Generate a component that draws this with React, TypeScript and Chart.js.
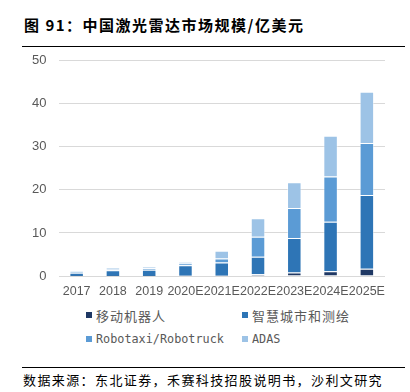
import React, { useEffect, useRef } from "react";
import { Chart, registerables } from "chart.js";

Chart.register(...registerables);

const categories = ["2017", "2018", "2019", "2020E", "2021E", "2022E", "2023E", "2024E", "2025E"];
const mobileRobot = [0.02, 0.02, 0.02, 0.03, 0.05, 0.4, 0.8, 1.1, 1.7];
const smartCity = [0.75, 1.3, 1.45, 2.45, 3.1, 4.1, 8.0, 11.5, 17.1];
const robotaxi = [0.25, 0.25, 0.35, 0.45, 0.9, 4.6, 7.0, 10.5, 12.1];
const adas = [0.3, 0.3, 0.3, 0.35, 1.8, 4.3, 6.0, 9.5, 11.9];
const yTicks = [0, 10, 20, 30, 40, 50];

const seriesNames = ["移动机器人", "智慧城市和测绘", "Robotaxi/Robotruck", "ADAS"];
const seriesColors = ["#1f3864", "#2e75b6", "#5b9bd5", "#9dc3e6"];

export default function App() {
  const ref = useRef<HTMLCanvasElement | null>(null);

  useEffect(() => {
    document.body.style.margin = "0";
    const ctx = ref.current!;
    const values = [mobileRobot, smartCity, robotaxi, adas];
    const chart = new Chart(ctx, {
      type: "bar",
      data: {
        labels: categories,
        datasets: values.map((v, i) => ({
          label: seriesNames[i],
          data: v,
          backgroundColor: seriesColors[i],
          borderColor: "rgba(255,255,255,0.45)",
          borderWidth: 1,
          barPercentage: 0.4,
          categoryPercentage: 1,
        })),
      },
      options: {
        animation: false,
        responsive: false,
        maintainAspectRatio: false,
        layout: { padding: { top: 2, right: 25, left: 0, bottom: 0 } },
        plugins: { legend: { display: false }, tooltip: { enabled: false } },
        scales: {
          x: {
            stacked: true,
            grid: { display: false, drawTicks: false },
            border: { display: false },
            ticks: {
              autoSkip: false,
              maxRotation: 0,
              minRotation: 0,
              padding: 8,
              color: "#595959",
              font: { family: "'Liberation Sans', Arial, sans-serif", size: 12.5 },
            },
            afterFit: (s: any) => {
              s.height = 29;
            },
          },
          y: {
            stacked: true,
            min: 0,
            max: 50,
            afterBuildTicks: (s: any) => {
              s.ticks = yTicks.map((v) => ({ value: v }));
            },
            grid: { color: "#d9d9d9", lineWidth: 1, drawTicks: false },
            border: { display: false },
            ticks: {
              padding: 12,
              color: "#595959",
              font: { family: "'Liberation Sans', Arial, sans-serif", size: 13 },
            },
            afterFit: (s: any) => {
              s.width = 58.5;
            },
          },
        },
      },
    });
    return () => chart.destroy();
  }, []);

  const legendItem = (i: number, left: number, top: number) => {
    const latin = /^[A-Za-z/]+$/.test(seriesNames[i]);
    return (
      <div
        key={i}
        style={{
          position: "absolute",
          left,
          top,
          display: "flex",
          alignItems: "center",
          height: 16,
          color: "#595959",
        }}
      >
        <span
          style={{
            display: "inline-block",
            width: 6,
            height: 6,
            background: seriesColors[i],
            marginRight: 4,
          }}
        />
        <span
          style={
            latin
              ? { fontFamily: "'DejaVu Sans Mono', monospace", fontSize: 11.8, whiteSpace: "nowrap" }
              : { fontFamily: "'Noto Sans CJK SC', sans-serif", fontSize: 13, letterSpacing: 1, whiteSpace: "nowrap" }
          }
        >
          {seriesNames[i]}
        </span>
      </div>
    );
  };

  return (
    <div
      style={{
        position: "fixed",
        left: 0,
        top: 0,
        width: 410,
        height: 392,
        background: "#fff",
        overflow: "hidden",
      }}
    >
      <canvas
        ref={ref}
        width={410}
        height={264}
        style={{ position: "absolute", left: 0, top: 41, width: 410, height: 264 }}
      />
      <div
        style={{
          position: "absolute",
          left: 24,
          top: 14,
          fontFamily: "'Noto Sans CJK SC', sans-serif",
          fontWeight: 700,
          fontSize: 15,
          letterSpacing: 1.5,
          color: "#000",
          whiteSpace: "nowrap",
          lineHeight: "22px",
        }}
      >
        图 91：中国激光雷达市场规模/亿美元
      </div>
      <div style={{ position: "absolute", left: 22, top: 46, width: 383, height: 1, background: "#000" }} />
      {legendItem(0, 86, 307)}
      {legendItem(1, 242, 307)}
      {legendItem(2, 86, 331)}
      {legendItem(3, 242, 331)}
      <div style={{ position: "absolute", left: 22, top: 367, width: 383, height: 1, background: "#000" }} />
      <div
        style={{
          position: "absolute",
          left: 23,
          top: 370,
          fontFamily: "'Noto Sans CJK SC', sans-serif",
          fontSize: 13,
          letterSpacing: 1.4,
          color: "#000",
          whiteSpace: "nowrap",
          lineHeight: "20px",
        }}
      >
        数据来源：东北证券，禾赛科技招股说明书，沙利文研究
      </div>
    </div>
  );
}
